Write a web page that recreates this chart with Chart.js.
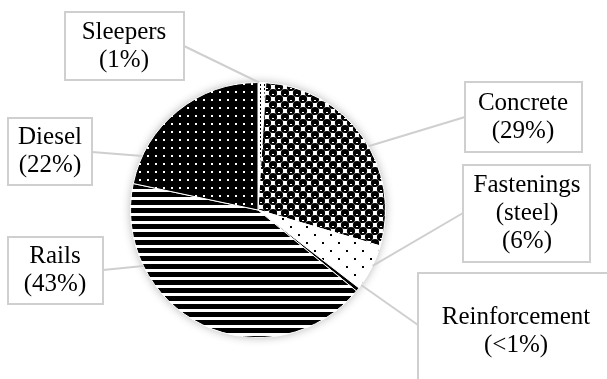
<!DOCTYPE html>
<html>
<head>
<meta charset="utf-8">
<script src="https://cdn.jsdelivr.net/npm/chart.js@4"></script>
<style>
  body { margin: 0; background: #fff; }
  #wrap { width: 607px; height: 379px; }
</style>
</head>
<body>
<div id="wrap"><canvas id="pie_chart" width="607" height="379"></canvas></div>
<script>
// data, clockwise from the top
const categories = ["Sleepers", "Concrete", "Fastenings (steel)", "Reinforcement", "Rails", "Diesel"];
const shares = [1, 29, 6, 0.5, 43, 22];
const labelLines = [
  ["Sleepers", "(1%)"],
  ["Concrete", "(29%)"],
  ["Fastenings", "(steel)", "(6%)"],
  ["Reinforcement", "(<1%)"],
  ["Rails", "(43%)"],
  ["Diesel", "(22%)"],
];

// label boxes: [x, y, w, h, text centre x, leader start x, leader start y, angle on pie (deg from top)]
const boxes = [
  [65, 12, 119, 68, 124, 184, 46, 0.5],
  [465, 82, 117, 70, 523, 465, 117, 60],
  [463, 165, 127, 97, 527, 463, 213, 116],
  [418, 273, 200, 130, 516, 418, 325, 126],
  [8, 237, 95, 67, 55, 103, 270, 244],
  [8, 118, 84, 67, 50, 92, 152, 295],
];

function makePattern(size, draw) {
  const c = document.createElement("canvas");
  c.width = size; c.height = size;
  const g = c.getContext("2d");
  draw(g, size);
  return g.createPattern(c, "repeat");
}

const sleepersFill = makePattern(4, (g, s) => {
  g.fillStyle = "#fff"; g.fillRect(0, 0, s, s);
  g.fillStyle = "#000"; g.fillRect(0, 0, 1, 2);
});
const concreteFill = makePattern(12, (g, s) => {
  g.fillStyle = "#fff"; g.fillRect(0, 0, s, s);
  g.fillStyle = "#000";
  const pts = [[3, 3], [9, 9], [15, 3], [3, 15], [-3, 9], [9, -3], [15, 15], [-3, -3]];
  pts.forEach(([x, y]) => { g.beginPath(); g.arc(x, y, 4.1, 0, Math.PI * 2); g.fill(); });
  g.fillStyle = "#fff";
  g.fillRect(2, 4, 2, 1);
  g.fillRect(8, 10, 2, 1);
});
const fasteningsFill = makePattern(16, (g, s) => {
  g.fillStyle = "#fff"; g.fillRect(0, 0, s, s);
  g.fillStyle = "#000";
  g.fillRect(2, 2, 2, 2);
  g.fillRect(10, 10, 2, 2);
});
const railsFill = makePattern(8, (g, s) => {
  g.fillStyle = "#fff"; g.fillRect(0, 0, s, s);
  g.fillStyle = "#000"; g.fillRect(0, 0, s, 5);
});
const dieselFill = makePattern(8, (g, s) => {
  g.fillStyle = "#000"; g.fillRect(0, 0, s, s);
  g.fillStyle = "#fff"; g.fillRect(3, 3, 2, 2);
});

const shadowPlugin = {
  id: "pieShadow",
  beforeDatasetsDraw(chart) {
    const arc = chart.getDatasetMeta(0).data[0];
    if (!arc) return;
    const ctx = chart.ctx;
    ctx.save();
    ctx.shadowColor = "rgba(0,0,0,0.3)";
    ctx.shadowBlur = 10;
    ctx.fillStyle = "#fff";
    ctx.beginPath();
    ctx.arc(arc.x, arc.y, arc.outerRadius, 0, Math.PI * 2);
    ctx.fill();
    ctx.restore();
  },
};

const calloutPlugin = {
  id: "callouts",
  afterDatasetsDraw(chart) {
    const arc = chart.getDatasetMeta(0).data[0];
    if (!arc) return;
    const ctx = chart.ctx;
    const r = arc.outerRadius;
    ctx.save();
    boxes.forEach((b, i) => {
      const [x, y, w, h, tx, lx, ly, deg] = b;
      const a = (deg - 90) * Math.PI / 180;
      ctx.strokeStyle = "#cfcfcf";
      ctx.lineWidth = 2;
      ctx.beginPath();
      ctx.moveTo(lx, ly);
      ctx.lineTo(arc.x + Math.cos(a) * r, arc.y + Math.sin(a) * r);
      ctx.stroke();
      ctx.fillStyle = "#fff";
      ctx.fillRect(x, y, w, h);
      ctx.strokeRect(x, y, w, h);
      const lines = labelLines[i];
      ctx.fillStyle = "#000";
      ctx.font = "25px 'Liberation Serif', 'Times New Roman', serif";
      ctx.textAlign = "center";
      ctx.textBaseline = "middle";
      const cy = i === 3 ? 331 : y + h / 2;
      lines.forEach((t, k) => {
        ctx.fillText(t, tx, cy + (k - (lines.length - 1) / 2) * 28);
      });
    });
    ctx.restore();
  },
};

new Chart(document.getElementById("pie_chart"), {
  type: "pie",
  data: {
    labels: categories,
    datasets: [
      {
        data: shares,
        backgroundColor: [sleepersFill, concreteFill, fasteningsFill, "#000", railsFill, dieselFill],
        borderColor: "#fff",
        borderWidth: 1,
      },
    ],
  },
  options: {
    responsive: false,
    animation: false,
    events: [],
    layout: { padding: { left: 130, right: 221, top: 82, bottom: 41 } },
    plugins: {
      legend: { display: false },
      tooltip: { enabled: false },
    },
  },
  plugins: [shadowPlugin, calloutPlugin],
});
</script>
</body>
</html>
